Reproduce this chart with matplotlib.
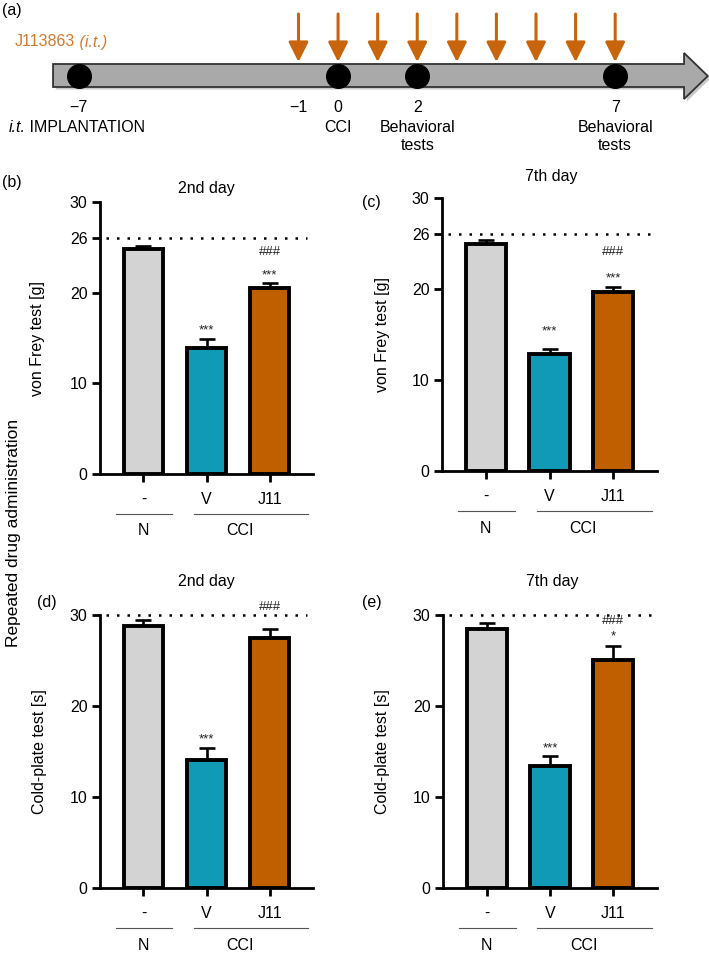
import numpy as np
import matplotlib.pyplot as plt
from matplotlib.patches import Polygon
from matplotlib.transforms import blended_transform_factory

plt.rcParams['font.family'] = ['Liberation Sans', 'DejaVu Sans']
plt.rcParams['font.size'] = 11.5

# ---- data ----
groups = ['-', 'V', 'J11']
bar_colors = ['#d3d3d3', '#109ab6', '#c05f00']
conditions = ['N', 'CCI']

vf_day2 = [24.8, 13.9, 20.5]
vf_day2_err = [0.35, 1.0, 0.6]
vf_day7 = [24.9, 12.9, 19.7]
vf_day7_err = [0.5, 0.5, 0.5]
cp_day2 = [28.8, 14.1, 27.5]
cp_day2_err = [0.6, 1.3, 1.0]
cp_day7 = [28.5, 13.4, 25.1]
cp_day7_err = [0.6, 1.1, 1.5]

# (group index, mark, y position)
vf_day2_marks = [(1, '***', 15.8), (2, '***', 21.9), (2, '###', 24.5)]
vf_day7_marks = [(1, '***', 15.3), (2, '***', 21.2), (2, '###', 24.1)]
cp_day2_marks = [(1, '***', 16.3), (2, '###', 30.9)]
cp_day7_marks = [(1, '***', 15.3), (2, '*', 27.6), (2, '###', 29.3)]

vf_cutoff = 26
cp_cutoff = 30

# timeline
dose_days = [-1, 0, 1, 2, 3, 4, 5, 6, 7]
event_days = [-7, 0, 2, 7]
tick_days = [-7, -1, 0, 2, 7]
tick_labels = ['\u22127', '\u22121', '0', '2', '7']
event_text = {0: 'CCI', 2: 'Behavioral\ntests', 7: 'Behavioral\ntests'}

ORANGE = '#c8650c'


def tl_x(day):
    # schematic: the week before -1 is drawn slightly compressed
    return day if day >= -1 else -1 + (day + 1) * 0.925


fig = plt.figure(figsize=(7.09, 9.58), dpi=100)

# ---- (a) timeline ----
ax0 = fig.add_axes([0, 1 - 180 / 958, 1, 180 / 958])
ax0.set_xlim(-8.54, 9.37)
ax0.set_ylim(180, 0)
ax0.axis('off')

shaft = [(-7.2, 64), (8.74, 64), (8.74, 53), (9.34, 76), (8.74, 99),
         (8.74, 87), (-7.2, 87)]
shadow = Polygon([(x + 0.07, y + 2.5) for x, y in shaft], closed=True,
                 facecolor='#888888', edgecolor='none', alpha=0.45, zorder=1)
ax0.add_patch(shadow)
ax0.add_patch(Polygon(shaft, closed=True, facecolor='#a9a9a9',
                      edgecolor='#333333', lw=1.3, zorder=2))
ax0.plot([tl_x(d) for d in event_days], [76] * len(event_days), 'o',
         color='black', ms=17, zorder=3)
for d in dose_days:
    ax0.annotate('', xy=(tl_x(d), 62), xytext=(tl_x(d), 14),
                 arrowprops=dict(arrowstyle='-|>,head_length=1.2,head_width=0.6',
                                 mutation_scale=10, color=ORANGE, lw=2.2,
                                 shrinkA=0, shrinkB=0))
for d, lab in zip(tick_days, tick_labels):
    ax0.text(tl_x(d), 107, lab, ha='center', va='center', fontsize=11.5)
for d, lab in event_text.items():
    ax0.text(tl_x(d), 120, lab, ha='center', va='top', fontsize=11.5,
             linespacing=1.25)

t1 = ax0.text(-8.33, 128, 'i.t.', style='italic', ha='left', va='center',
              fontsize=11.5)
ax0.annotate(' IMPLANTATION', xy=(1, 0), xycoords=t1, va='bottom', ha='left',
             fontsize=11.5)
t2 = ax0.text(-8.16, 42, 'J113863', ha='left', va='center', fontsize=11.5,
              color='#d27a2c')
ax0.annotate(' (i.t.)', xy=(1, 0), xycoords=t2, va='bottom', ha='left',
             fontsize=11.5, color='#d27a2c', style='italic')


def draw_panel(rect, means, errs, marks, cutoff, yticks, ylabel, title,
               title_pos, ylabel_x):
    ax = fig.add_axes(rect)
    x = np.arange(len(groups))
    ax.bar(x, means, width=0.63, color=bar_colors, edgecolor='black',
           linewidth=2.8, zorder=3)
    ax.errorbar(x, means, yerr=[np.zeros(len(means)), errs], fmt='none',
                ecolor='black', elinewidth=1.9, capsize=6, capthick=1.9,
                zorder=2)
    ax.axhline(cutoff, xmin=0.03, xmax=0.97, color='black', lw=1.8,
               ls=(0, (1, 3.2)), zorder=1, clip_on=False)
    for i, txt, y in marks:
        ax.text(i, y, txt, ha='center', va='center',
                fontsize=9.5 if txt.startswith('#') else 9.5, color='#222222')

    ax.set_xlim(-0.69, 2.69)
    ax.set_ylim(0, 30)
    ax.set_yticks(yticks)
    ax.set_xticks(x)
    ax.set_xticklabels([''] * len(x))
    for s in ['top', 'right']:
        ax.spines[s].set_visible(False)
    for s in ['left', 'bottom']:
        ax.spines[s].set_linewidth(2)
    ax.tick_params(width=2, length=6, labelsize=11.5, pad=3)
    ax.set_ylabel(ylabel, fontsize=11.5)
    ax.yaxis.set_label_coords(ylabel_x, 0.5)
    ax.text(title_pos[0], title_pos[1], title, transform=ax.transAxes,
            ha='center', va='center', fontsize=11.5)

    tr = blended_transform_factory(ax.transData, ax.transAxes)
    for i, g in enumerate(groups):
        ax.text(i, -0.092, g, transform=tr, ha='center', va='center',
                fontsize=11.5)
    ax.plot([-0.44, 0.46], [-0.147, -0.147], transform=tr, color='#555555',
            lw=0.8, clip_on=False)
    ax.plot([0.8, 2.61], [-0.147, -0.147], transform=tr, color='#555555',
            lw=0.8, clip_on=False)
    ax.text(0, -0.209, conditions[0], transform=tr, ha='center', va='center',
            fontsize=11.5)
    ax.text(1.53, -0.209, conditions[1], transform=tr, ha='center',
            va='center', fontsize=11.5)
    return ax


vf_ticks = [0, 10, 20, 26, 30]
cp_ticks = [0, 10, 20, 30]

draw_panel([100 / 709, 1 - 474 / 958, 213 / 709, 272 / 958], vf_day2,
           vf_day2_err, vf_day2_marks, vf_cutoff, vf_ticks,
           'von Frey test [g]', '2nd day', (0.5, 1.051), -0.258)
draw_panel([442 / 709, 1 - 471 / 958, 215 / 709, 273 / 958], vf_day7,
           vf_day7_err, vf_day7_marks, vf_cutoff, vf_ticks,
           'von Frey test [g]', '7th day', (0.51, 1.077), -0.242)
draw_panel([100 / 709, 1 - 888 / 958, 213 / 709, 273 / 958], cp_day2,
           cp_day2_err, cp_day2_marks, cp_cutoff, cp_ticks,
           'Cold-plate test [s]', '2nd day', (0.5, 1.121), -0.249)
draw_panel([443 / 709, 1 - 888 / 958, 214 / 709, 273 / 958], cp_day7,
           cp_day7_err, cp_day7_marks, cp_cutoff, cp_ticks,
           'Cold-plate test [s]', '7th day', (0.51, 1.121), -0.248)

# panel letters
for lab, px, py in [('(a)', 2, 10), ('(b)', 2, 182), ('(c)', 362, 202),
                    ('(d)', 37, 603), ('(e)', 362, 603)]:
    fig.text(px / 709, 1 - py / 958, lab, ha='left', va='center',
             fontsize=11.5)

fig.text(14 / 709, 1 - 533 / 958, 'Repeated drug administration',
         rotation=90, ha='center', va='center', fontsize=12.5)

fig.savefig('out.png', dpi=100)
